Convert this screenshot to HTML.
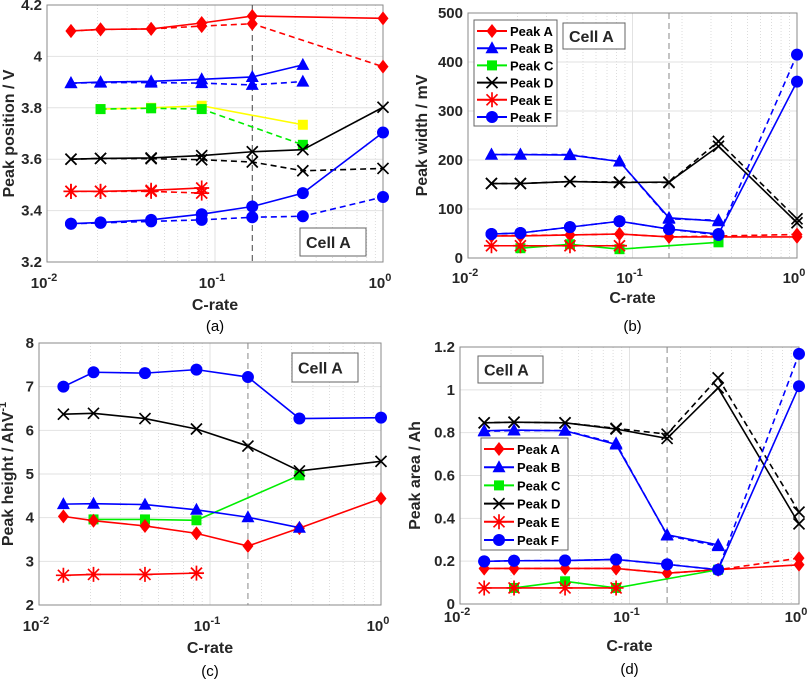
<!DOCTYPE html>
<html><head><meta charset="utf-8">
<style>
html,body{margin:0;padding:0;background:#fff;}
svg{display:block;font-family:"Liberation Sans",Arial,sans-serif;}
.tk{font-size:15px;font-weight:bold;fill:#262626;}
.at{font-size:16px;font-weight:bold;fill:#262626;}
.lg{font-size:13px;font-weight:bold;fill:#000;}
.cap{font-size:15px;fill:#000;}
</style></head>
<body>
<svg id="fig" width="809" height="680" viewBox="0 0 809 680" xmlns="http://www.w3.org/2000/svg"></svg>
<script>
const cRates=[1/72,1/48,1/24,1/12,1/6,1/3,1];
const xTickLabels=["-2","-1","0"];
// (a) peak position
const posA=[4.099,4.105,4.107,4.130,4.157,null,4.148];
const posAd=[4.099,4.105,4.107,4.118,4.127,null,3.960];
const posB=[3.896,3.900,3.903,3.911,3.920,3.967,null];
const posBd=[3.896,3.898,3.898,3.896,3.889,3.902,null];
const posC=[null,3.795,3.800,3.808,null,3.734,null];
const posCd=[null,3.795,3.798,3.795,null,3.656,null];
const posD=[3.600,3.603,3.605,3.614,3.629,3.637,3.802];
const posDd=[3.600,3.603,3.602,3.598,3.589,3.555,3.564];
const posE=[3.475,3.475,3.479,3.488,null,null,null];
const posEd=[3.475,3.475,3.475,3.468,null,null,null];
const posF=[3.349,3.354,3.364,3.386,3.416,3.468,3.704];
const posFd=[3.349,3.352,3.358,3.364,3.374,3.378,3.453];
const posTicks=[3.2,3.4,3.6,3.8,4,4.2];
// (b) peak width
const widA=[45,45,47,49,43,null,43];
const widAd=[45,46,47,49,43,null,48];
const widB=[211,211,210,197,82,75,null];
const widBd=[211,211,211,197,80,77,null];
const widC=[null,20,28,18,null,32,null];
const widD=[152,152,156,154,155,228,72];
const widDd=[152,152,156,155,154,238,80];
const widE=[25,25,25,25,null,null,null];
const widF=[49,51,63,75,59,49,360];
const widFd=[49,51,63,75,59,47,415];
const widTicks=[0,100,200,300,400,500];
// (c) peak height
const hgtA=[4.03,3.93,3.81,3.64,3.35,3.76,4.44];
const hgtB=[4.31,4.32,4.30,4.18,4.01,3.77,null];
const hgtC=[null,3.96,3.96,3.94,null,4.97,null];
const hgtD=[6.37,6.39,6.27,6.03,5.64,5.07,5.29];
const hgtE=[2.68,2.70,2.70,2.73,null,null,null];
const hgtF=[7.00,7.33,7.31,7.39,7.22,6.27,6.29];
const hgtTicks=[2,3,4,5,6,7,8];
// (d) peak area
const areaA=[0.166,0.166,0.166,0.166,0.144,0.160,0.183];
const areaAd=[0.166,0.166,0.166,0.166,0.144,0.160,0.214];
const areaB=[0.809,0.812,0.809,0.745,0.323,0.276,null];
const areaBd=[0.806,0.810,0.810,0.750,0.320,0.270,null];
const areaC=[null,0.075,0.106,0.075,null,0.160,null];
const areaD=[0.846,0.849,0.846,0.817,0.773,1.009,0.374];
const areaDd=[0.846,0.849,0.846,0.820,0.793,1.056,0.429];
const areaE=[0.075,0.075,0.075,0.075,null,null,null];
const areaF=[0.199,0.202,0.203,0.208,0.185,0.160,1.017];
const areaFd=[0.199,0.202,0.203,0.208,0.185,0.160,1.168];
const areaTicks=[0,0.2,0.4,0.6,0.8,1,1.2];
const legendNames=["Peak A","Peak B","Peak C","Peak D","Peak E","Peak F"];

const NS="http://www.w3.org/2000/svg";
const fig=document.getElementById('fig');
function mk(tag,attrs,parent){const e=document.createElementNS(NS,tag);for(const k in attrs)e.setAttribute(k,attrs[k]);(parent||fig).appendChild(e);return e;}

function marker(g,type,x,y,color,name){
  let e;
  if(type==='d'){e=mk('polygon',{points:`${x},${y-7} ${x+5.5},${y} ${x},${y+7} ${x-5.5},${y}`,fill:color},g);}
  else if(type==='t'){e=mk('polygon',{points:`${x},${y-7} ${x+6.5},${y+5} ${x-6.5},${y+5}`,fill:color},g);}
  else if(type==='s'){e=mk('rect',{x:x-5,y:y-5,width:10,height:10,fill:color},g);}
  else if(type==='o'){e=mk('circle',{cx:x,cy:y,r:6,fill:color},g);}
  else if(type==='x'){e=mk('path',{d:`M${x-5.5} ${y-5.5}L${x+5.5} ${y+5.5}M${x-5.5} ${y+5.5}L${x+5.5} ${y-5.5}`,stroke:color,'stroke-width':1.7,fill:'none'},g);}
  else {e=mk('path',{d:`M${x-7.5} ${y}L${x+7.5} ${y}M${x} ${y-7.5}L${x} ${y+7.5}M${x-5.5} ${y-5.5}L${x+5.5} ${y+5.5}M${x-5.5} ${y+5.5}L${x+5.5} ${y-5.5}`,stroke:color,'stroke-width':1.7,fill:'none'},g);}
  
  
}

function panel(p){
  const g=mk('g',{});
  
  
  const xs=c=>p.x0+(Math.log10(c)+2)/2*(p.x1-p.x0);
  const ys=v=>p.yb-(v-p.ymin)/(p.ymax-p.ymin)*(p.yb-p.yt);
  for(let d=-2;d<0;d++)for(let m=2;m<=9;m++){const x=xs(m*Math.pow(10,d));
    const l=mk('line',{x1:x,x2:x,y1:p.yt,y2:p.yb,stroke:'#d4d4d4','stroke-width':0.8,'stroke-dasharray':'1,2'},g);
    
    }
  for(let d=-2;d<=0;d++){const x=xs(Math.pow(10,d));
    const l=mk('line',{x1:x,x2:x,y1:p.yt,y2:p.yb,stroke:'#e2e2e2','stroke-width':1},g);
    
    
    const t=mk('text',{x:x-3,y:p.xty,'text-anchor':'middle',class:'tk'},g);
    t.textContent='10';
    const s=mk('tspan',{dy:-7,'font-size':'11'},t);s.textContent=xTickLabels[d+2];
    
    }
  p.ticks.forEach(v=>{const y=ys(v);
    const l=mk('line',{x1:p.x0,x2:p.x1,y1:y,y2:y,stroke:'#e2e2e2','stroke-width':1},g);
    
    
    const t=mk('text',{x:p.x0-5,y:y+5,'text-anchor':'end',class:'tk'},g);t.textContent=String(v);
    
    });
  const box=mk('rect',{x:p.x0,y:p.yt,width:p.x1-p.x0,height:p.yb-p.yt,fill:'none',stroke:'#8a8a8a','stroke-width':1},g);
  
  
  const vx=xs(cRates[4]);
  const vl=mk('line',{x1:vx,x2:vx,y1:p.yt,y2:p.yb,stroke:p.vcol,'stroke-width':1,'stroke-dasharray':'6,4'},g);
  
  
  p.series.forEach(s=>{
    const pts=[];s.v.forEach((v,i)=>{if(v!==null)pts.push([xs(cRates[i]),ys(v)]);});
    const pl=mk('polyline',{points:pts.map(q=>q.join(',')).join(' '),fill:'none',stroke:s.lc,'stroke-width':1.6},g);
    if(s.dash)pl.setAttribute('stroke-dasharray','6,4');
    
    
    pts.forEach(q=>marker(g,s.m,q[0],q[1],s.mc,s.name+'-point'));
  });
  const xt=mk('text',{x:(p.x0+p.x1)/2,y:p.xtt,'text-anchor':'middle',class:'at'},g);xt.textContent='C-rate';
  
  
  const yt=mk('text',{x:0,y:0,'text-anchor':'middle',class:'at',transform:`translate(${p.ytx},${(p.yt+p.yb)/2}) rotate(-90)`},g);
  yt.textContent=p.ytitle;
  if(p.sup){const s=mk('tspan',{dy:-7,'font-size':'11'},yt);s.textContent=p.sup;}
  
  
  const cp=mk('text',{x:(p.x0+p.x1)/2,y:p.capy,'text-anchor':'middle',class:'cap'},g);cp.textContent=p.cap;
  
  
  const cb=mk('rect',{x:p.cell[0],y:p.cell[1],width:p.cell[2],height:p.cell[3],fill:'#fff',stroke:'#666','stroke-width':1},g);
  
  
  const ct=mk('text',{x:p.cell[0]+6,y:p.cell[1]+p.cell[3]/2+6,class:'at'},g);ct.textContent='Cell A';
  
  
  if(p.legend){
    const [lx,ly,lw,lh,step]=p.legend;
    const lb=mk('rect',{x:lx,y:ly,width:lw,height:lh,fill:'#fff',stroke:'#666','stroke-width':1},g);
    
    
    const lm=['d','t','s','x','a','o'],lc=['#f00','#00f','#0e0','#000','#f00','#00f'];
    legendNames.forEach((n,i)=>{const y=ly+11+i*step;
      const l=mk('line',{x1:lx+3,x2:lx+33,y1:y,y2:y,stroke:lc[i],'stroke-width':2},g);
      
      
      marker(g,lm[i],lx+18,y,lc[i],'legend-entry-marker');
      const t=mk('text',{x:lx+36,y:y+5,class:'lg'},g);t.textContent=n;
      
      });
  }
}
const R='#ff0000',B='#0000ff',G='#00ee00',K='#000000',Y='#ffff00';
panel({id:'a',x0:47,x1:383,yt:5,yb:262,ymin:3.2,ymax:4.2,ticks:posTicks,xty:288,xtt:310,capy:331,ytx:14,ytitle:'Peak position / V',cap:'(a)',vcol:'#444',cell:[300,228,66,28],
 series:[
 {v:posAd,dash:1,lc:R,mc:R,m:'d',name:'peak-a-dashed'},{v:posA,lc:R,mc:R,m:'d',name:'peak-a'},
 {v:posBd,dash:1,lc:B,mc:B,m:'t',name:'peak-b-dashed'},{v:posB,lc:B,mc:B,m:'t',name:'peak-b'},
 {v:posC,lc:Y,mc:Y,m:'s',name:'peak-c'},{v:posCd,dash:1,lc:G,mc:G,m:'s',name:'peak-c-dashed'},
 {v:posDd,dash:1,lc:K,mc:K,m:'x',name:'peak-d-dashed'},{v:posD,lc:K,mc:K,m:'x',name:'peak-d'},
 {v:posEd,dash:1,lc:R,mc:R,m:'a',name:'peak-e-dashed'},{v:posE,lc:R,mc:R,m:'a',name:'peak-e'},
 {v:posFd,dash:1,lc:B,mc:B,m:'o',name:'peak-f-dashed'},{v:posF,lc:B,mc:B,m:'o',name:'peak-f'}]});
panel({id:'b',x0:468,x1:797,yt:13,yb:258,ymin:0,ymax:500,ticks:widTicks,xty:283,xtt:303,capy:331,ytx:427,ytitle:'Peak width / mV',cap:'(b)',vcol:'#888',cell:[563,23,62,26],legend:[474,20,83,106,17.2],
 series:[
 {v:widAd,dash:1,lc:R,mc:R,m:'d',name:'peak-a-dashed'},{v:widA,lc:R,mc:R,m:'d',name:'peak-a'},
 {v:widBd,dash:1,lc:B,mc:B,m:'t',name:'peak-b-dashed'},{v:widB,lc:B,mc:B,m:'t',name:'peak-b'},
 {v:widC,lc:G,mc:G,m:'s',name:'peak-c'},
 {v:widDd,dash:1,lc:K,mc:K,m:'x',name:'peak-d-dashed'},{v:widD,lc:K,mc:K,m:'x',name:'peak-d'},
 {v:widE,lc:R,mc:R,m:'a',name:'peak-e'},
 {v:widFd,dash:1,lc:B,mc:B,m:'o',name:'peak-f-dashed'},{v:widF,lc:B,mc:B,m:'o',name:'peak-f'}]});
panel({id:'c',x0:39,x1:381,yt:343,yb:605,ymin:2,ymax:8,ticks:hgtTicks,xty:631,xtt:653,capy:676,ytx:13,ytitle:'Peak height / AhV',sup:'-1',cap:'(c)',vcol:'#888',cell:[292,353,66,29],
 series:[
 {v:hgtC,lc:G,mc:G,m:'s',name:'peak-c'},{v:hgtA,lc:R,mc:R,m:'d',name:'peak-a'},
 {v:hgtB,lc:B,mc:B,m:'t',name:'peak-b'},{v:hgtD,lc:K,mc:K,m:'x',name:'peak-d'},
 {v:hgtE,lc:R,mc:R,m:'a',name:'peak-e'},{v:hgtF,lc:B,mc:B,m:'o',name:'peak-f'}]});
panel({id:'d',x0:460,x1:799,yt:347,yb:604,ymin:0,ymax:1.2,ticks:areaTicks,xty:622,xtt:651,capy:674,ytx:420,ytitle:'Peak area / Ah',cap:'(d)',vcol:'#888',cell:[478,356,65,27],legend:[481,438,87,112,18.2],
 series:[
 {v:areaAd,dash:1,lc:R,mc:R,m:'d',name:'peak-a-dashed'},{v:areaA,lc:R,mc:R,m:'d',name:'peak-a'},
 {v:areaBd,dash:1,lc:B,mc:B,m:'t',name:'peak-b-dashed'},{v:areaB,lc:B,mc:B,m:'t',name:'peak-b'},
 {v:areaC,lc:G,mc:G,m:'s',name:'peak-c'},
 {v:areaDd,dash:1,lc:K,mc:K,m:'x',name:'peak-d-dashed'},{v:areaD,lc:K,mc:K,m:'x',name:'peak-d'},
 {v:areaE,lc:R,mc:R,m:'a',name:'peak-e'},
 {v:areaFd,dash:1,lc:B,mc:B,m:'o',name:'peak-f-dashed'},{v:areaF,lc:B,mc:B,m:'o',name:'peak-f'}]});
</script>
</body></html>
